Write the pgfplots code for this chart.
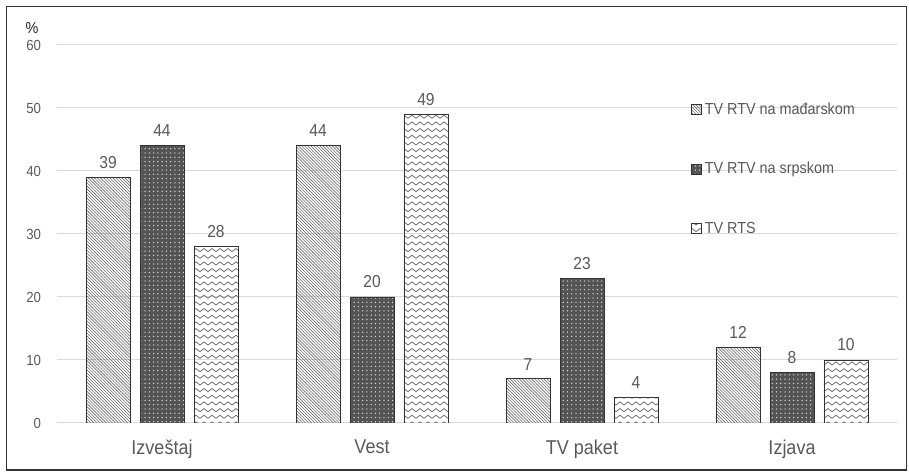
\documentclass[border=0pt]{standalone}
\usepackage{fontspec}
\setmainfont{Liberation Sans}[FakeStretch=0.9]
\usepackage{pgfplots}
\pgfplotsset{compat=1.18}
\usetikzlibrary{patterns}
\definecolor{txt}{HTML}{595959}
\definecolor{gridc}{HTML}{D9D9D9}
\definecolor{bartwo}{HTML}{545454}
\pgfdeclarepatternformonly{zigzag}{\pgfpoint{-0.5pt}{-0.5pt}}{\pgfpoint{6.5pt}{5.5pt}}{\pgfpoint{6pt}{5pt}}{%
 \pgfsetlinewidth{0.55pt}%
 \pgfpathmoveto{\pgfpoint{0pt}{1pt}}%
 \pgfpathlineto{\pgfpoint{3pt}{3.3pt}}%
 \pgfpathlineto{\pgfpoint{6pt}{1pt}}%
 \pgfusepath{stroke}}
\pgfdeclarepatternformonly{diagfine}{\pgfpoint{-0.5pt}{-0.5pt}}{\pgfpoint{2.8pt}{2.8pt}}{\pgfpoint{2.3pt}{2.3pt}}{%
 \pgfsetlinewidth{0.45pt}%
 \pgfpathmoveto{\pgfpoint{-0.1pt}{2.4pt}}%
 \pgfpathlineto{\pgfpoint{2.4pt}{-0.1pt}}%
 \pgfusepath{stroke}}
\pgfdeclarepatternformonly{bigdots}{\pgfpoint{-1pt}{-1pt}}{\pgfpoint{1pt}{1pt}}{\pgfpoint{3.2pt}{3.2pt}}{%
 \pgfpathcircle{\pgfpointorigin}{0.55pt}%
 \pgfusepath{fill}}
\begin{document}
\begin{tikzpicture}
\useasboundingbox (0,0) rectangle (681.75pt,354.75pt);
\draw[color=black!80, line width=1pt] (4.9pt,2.3pt) rectangle (679.9pt,349.9pt);
\node[font=\fontsize{12}{14}\selectfont, text=black!85] at (24pt,333.5pt) {\%};
\begin{axis}[
  at={(42.75pt,37.5pt)}, anchor=south west,
  scale only axis, width=630pt, height=283.5pt,
  xmin=-0.5, xmax=3.5, ymin=0, ymax=60,
  xtick={0,1,2,3},
  xticklabels={Izveštaj, Vest, TV paket, Izjava},
  ytick={0,10,20,30,40,50,60},
  axis line style={draw=none},
  major tick length=0pt,
  ymajorgrids, grid style={gridc, line width=0.75pt},
  /pgf/number format/assume math mode=true,
  yticklabel style={font=\fontsize{11}{13}\selectfont, text=txt, xshift=-8.5pt},
  xticklabel style={font=\fontsize{15}{17}\selectfont, text=txt, yshift=-9pt},
  ybar, bar width=0.2095,
  nodes near coords,
  nodes near coords style={font=\fontsize{13}{15}\selectfont, text=txt, yshift=3pt},
  legend style={at={(0.7548,0.855)}, anchor=north west, draw=none, fill=none,
    inner sep=0pt, row sep=30.5pt,
    font=\fontsize{12}{14}\selectfont, text=txt,
    legend cell align=left},
  legend image code/.code={\draw[#1] (0pt,-3.6pt) rectangle (7.5pt,3.6pt);},
]
\addplot[bar shift=-0.257, draw=black!80, line width=0.6pt,
  pattern=diagfine, pattern color=black!55]
  coordinates {(0,39) (1,44) (2,7) (3,12)};
\addplot[bar shift=0, draw=black!80, line width=0.6pt, fill=bartwo,
  postaction={pattern=bigdots, pattern color=white!85!black}]
  coordinates {(0,44) (1,20) (2,23) (3,8)};
\addplot[bar shift=0.257, draw=black!80, line width=0.6pt,
  pattern=zigzag, pattern color=black!60]
  coordinates {(0,28) (1,49) (2,4) (3,10)};
\legend{TV RTV na mađarskom, TV RTV na srpskom, TV RTS}
\end{axis}
\end{tikzpicture}
\end{document}
